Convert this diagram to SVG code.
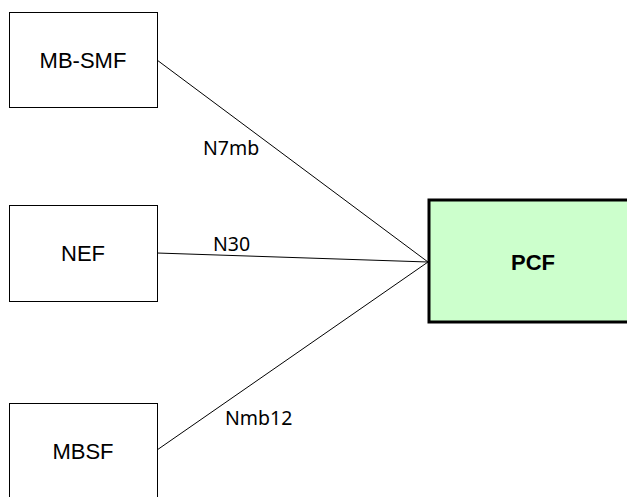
<svg xmlns="http://www.w3.org/2000/svg" width="627" height="497" viewBox="0 0 627 497">
<style>
.box{fill:#fff;stroke:#000;stroke-width:1}
.pcf{fill:#ccffcc;stroke:#000;stroke-width:3}
.t{font-family:"Liberation Sans",Arial,sans-serif;font-size:22px;text-anchor:middle;fill:#000}
.b{font-weight:bold}
.l{font-family:"Noto Sans","Open Sans",sans-serif;font-size:19.5px;fill:#000}
.c{stroke:#000;stroke-width:1;fill:none}
</style>
<rect width="627" height="497" fill="#fff"/>
<g id="connectors">
<line class="c" x1="157" y1="60" x2="428" y2="262"/>
<line class="c" x1="157" y1="253" x2="428" y2="262"/>
<line class="c" x1="157" y1="450" x2="428" y2="262"/>
<text class="l" x="203" y="155">N7mb</text>
<text class="l" x="213" y="251">N30</text>
<text class="l" x="225" y="425">Nmb12</text>
</g>
<g id="mb-smf">
<rect class="box" x="9.5" y="12.5" width="148" height="95"/>
<text class="t" x="83" y="68">MB-SMF</text>
</g>
<g id="nef">
<rect class="box" x="9.5" y="205.5" width="148" height="96"/>
<text class="t" x="83" y="261">NEF</text>
</g>
<g id="mbsf">
<rect class="box" x="9.5" y="403.5" width="148" height="110"/>
<text class="t" x="83" y="459">MBSF</text>
</g>
<g id="pcf">
<rect class="pcf" x="429" y="200" width="210" height="122"/>
<text class="t b" x="533" y="270">PCF</text>
</g>
</svg>
